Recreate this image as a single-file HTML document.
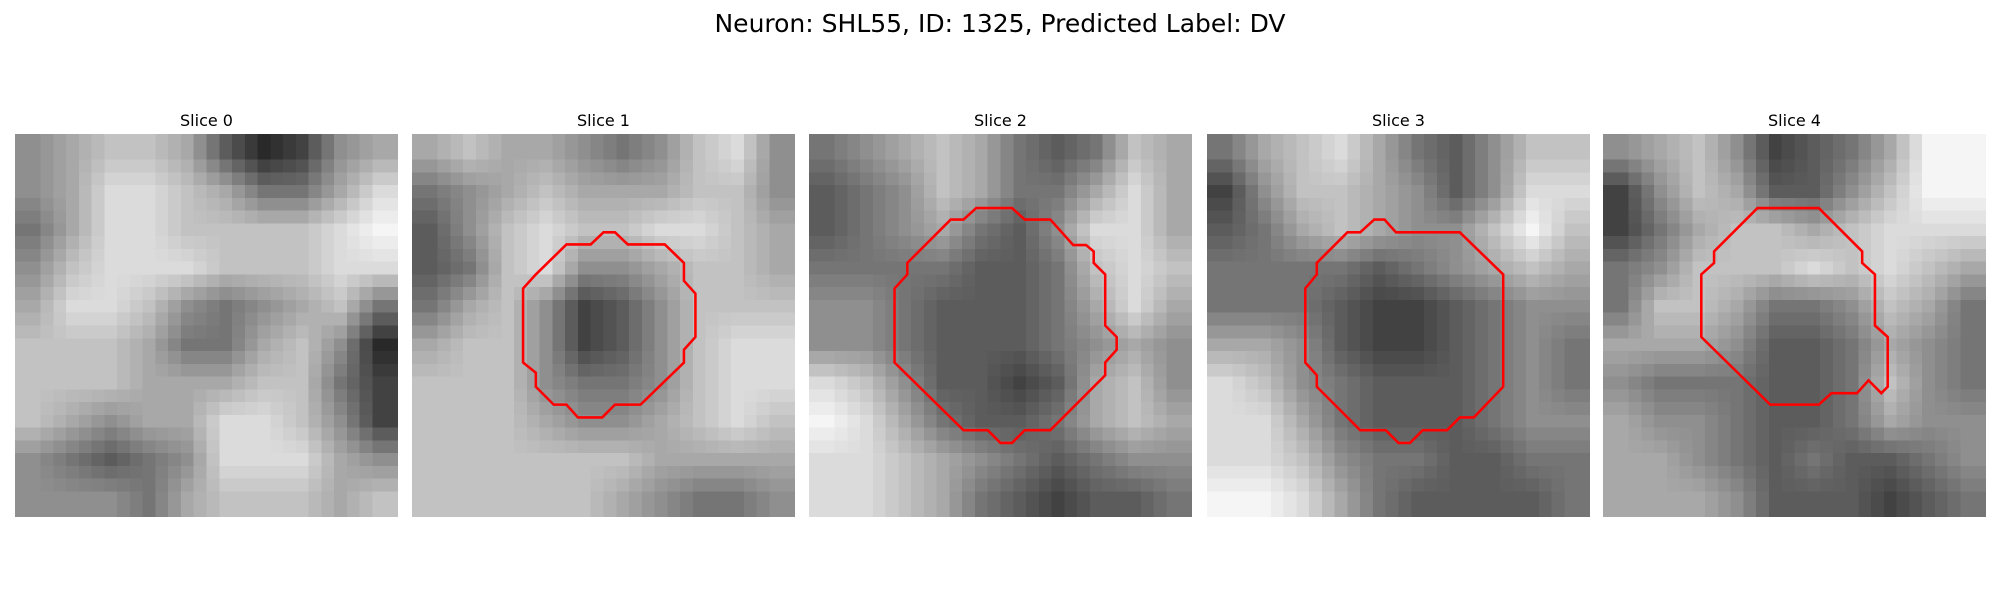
<!DOCTYPE html>
<html><head><meta charset="utf-8"><style>
body{margin:0;background:#fff;width:2000px;height:600px;position:relative;overflow:hidden;font-family:"DejaVu Sans","Liberation Sans",sans-serif}
#title{position:absolute;left:0;width:2000px;top:9px;text-align:center;font-size:25px;color:#000}
.panel{position:absolute;top:134px;width:383px;height:383px}
.panel canvas{position:absolute;left:0;top:0;width:383px;height:383px;image-rendering:pixelated}
.panel svg{position:absolute;left:0;top:0}
.ptitle{position:absolute;top:111px;width:383px;text-align:center;font-size:16px;color:#000}
</style></head><body>
<div id="title">Neuron: SHL55, ID: 1325, Predicted Label: DV</div>
<div id="root"></div>
<script>
const panelX=[15,412,809,1207,1603];
const sliceLabels=["Slice 0","Slice 1","Slice 2","Slice 3","Slice 4"];
const grid0=[[5,6,7,7,6,3,1,2,5,6],[5,6,8,8,7,6,4,4,6,8],[4,6,8,8,7,7,7,7,8,9],[5,7,8,8,8,7,7,7,8,8],[6,8,8,7,5,4,5,6,7,4],[7,7,7,6,4,4,6,7,5,1],[7,7,7,6,6,6,7,7,4,2],[7,6,5,6,6,8,8,7,5,2],[5,4,3,4,5,8,8,8,6,5],[5,5,5,4,6,7,7,7,6,7]];
const grid1=[[6,7,6,6,5,4,5,7,8,5],[4,5,6,7,6,6,6,7,7,5],[3,5,7,8,7,7,8,8,7,6],[3,4,7,8,5,5,6,7,7,6],[4,6,7,5,2,3,5,7,7,7],[6,7,7,5,2,3,5,7,8,8],[7,7,7,5,4,4,5,7,8,8],[7,7,7,6,5,5,6,7,8,7],[7,7,7,7,7,7,6,6,6,6],[7,7,7,7,7,6,5,4,4,5]];
const grid2=[[4,5,6,7,6,4,3,4,7,6],[3,4,5,7,6,4,4,6,8,6],[3,4,5,6,4,3,5,8,8,6],[4,4,4,4,3,3,4,7,8,7],[5,5,4,3,3,3,4,6,8,6],[5,5,4,3,3,3,4,5,6,5],[8,7,5,3,3,2,3,6,7,5],[9,8,6,4,3,3,4,6,7,6],[8,8,7,6,5,4,3,4,5,5],[8,8,7,6,4,3,2,3,3,4]];
const grid3=[[4,6,7,8,6,4,3,5,7,7],[2,5,7,7,6,5,3,5,8,8],[3,4,6,7,6,5,5,7,9,7],[4,4,4,4,3,4,5,6,7,6],[4,4,4,3,2,2,3,4,5,5],[6,6,5,3,2,2,3,4,5,4],[8,7,5,4,3,3,3,4,5,4],[8,8,6,4,3,3,3,4,5,5],[8,8,7,5,4,4,3,3,4,4],[9,9,8,6,4,3,3,3,3,4]];
const grid4=[[5,6,7,5,2,3,4,6,9,9],[2,5,7,6,3,3,5,7,9,9],[2,4,6,7,7,6,7,8,8,8],[4,5,7,7,7,8,7,8,7,6],[4,7,7,6,4,4,5,7,6,4],[6,6,6,5,3,3,4,6,5,4],[5,4,4,4,3,3,4,7,5,4],[6,5,5,4,3,3,4,6,5,5],[6,6,5,4,3,4,3,3,4,5],[6,6,6,5,3,3,3,2,3,4]];
const grids=[grid0,grid1,grid2,grid3,grid4];
const contour1=[[12.1,8.65],[14,8.65],[15,7.7],[15.9,7.7],[16.9,8.65],[19.8,8.65],[21.3,10.1],[21.3,11.5],[22.2,12.5],[22.2,15.9],[21.3,16.9],[21.3,17.9],[17.9,21.2],[15.9,21.2],[14.9,22.2],[13,22.2],[12.1,21.2],[11.1,21.2],[9.7,19.8],[9.7,18.7],[8.7,17.9],[8.7,12.1],[9.7,11]];
const contour2=[[13.1,5.8],[15.9,5.8],[16.9,6.7],[18.9,6.7],[20.7,8.7],[21.7,8.7],[22.3,9.2],[22.3,10.1],[23.2,11],[23.2,15],[24.1,15.9],[24.1,16.9],[23.2,17.9],[23.2,18.9],[18.9,23.2],[16.9,23.2],[15.9,24.2],[15,24.2],[14,23.2],[12.1,23.2],[6.7,17.9],[6.7,12.1],[7.7,11],[7.7,10.1],[11.1,6.7],[12.1,6.7]];
const contour3=[[13.1,6.7],[13.9,6.7],[14.8,7.7],[19.8,7.7],[23.2,11],[23.2,19.8],[20.9,22.2],[19.8,22.2],[18.8,23.2],[16.9,23.2],[15.9,24.2],[15,24.2],[14,23.2],[12,23.2],[8.6,19.8],[8.6,18.9],[7.7,17.9],[7.7,12.1],[8.6,11],[8.6,10.1],[11,7.7],[12,7.7]];
const contour4=[[12.1,5.8],[16.9,5.8],[20.3,9.2],[20.3,10.1],[21.3,11],[21.3,15],[22.3,15.9],[22.3,19.8],[21.8,20.3],[20.8,19.3],[19.9,20.3],[17.9,20.3],[16.9,21.2],[13.1,21.2],[7.7,15.9],[7.7,11],[8.7,10.1],[8.7,9.2]];
const contours=[null,contour1,contour2,contour3,contour4];
const root=document.getElementById('root');
function sample(g,x,y){
  const gx=Math.min(Math.max((x+0.5)/3-0.5,0),9), gy=Math.min(Math.max((y+0.5)/3-0.5,0),9);
  const x0=Math.floor(gx),y0=Math.floor(gy),x1=Math.min(x0+1,9),y1=Math.min(y0+1,9);
  const fx=gx-x0,fy=gy-y0;
  return (g[y0][x0]*(1-fx)+g[y0][x1]*fx)*(1-fy)+(g[y1][x0]*(1-fx)+g[y1][x1]*fx)*fy;
}
grids.forEach((g,i)=>{
  const t=document.createElement('div');
  t.className='ptitle';t.style.left=panelX[i]+'px';t.textContent=sliceLabels[i];
  
  
  root.appendChild(t);
  const p=document.createElement('div');
  p.className='panel';p.style.left=panelX[i]+'px';
  
  
  const c=document.createElement('canvas');c.width=30;c.height=30;
  const ctx=c.getContext('2d');
  for(let y=0;y<30;y++)for(let x=0;x<30;x++){
    const v=Math.round(sample(g,x,y)/9*230+15);
    ctx.fillStyle='rgb('+v+','+v+','+v+')';ctx.fillRect(x,y,1,1);
  }
  p.appendChild(c);
  if(contours[i]){
    const ns='http://www.w3.org/2000/svg';
    const s=document.createElementNS(ns,'svg');
    s.setAttribute('width','383');s.setAttribute('height','383');s.setAttribute('viewBox','0 0 30 30');
    const pl=document.createElementNS(ns,'polygon');
    pl.setAttribute('points',contours[i].map(q=>q[0]+','+q[1]).join(' '));
    pl.setAttribute('fill','none');pl.setAttribute('stroke','#ff0000');pl.setAttribute('stroke-width','0.2');
    
    
    s.appendChild(pl);p.appendChild(s);
  }
  root.appendChild(p);
});
</script>
</body></html>
